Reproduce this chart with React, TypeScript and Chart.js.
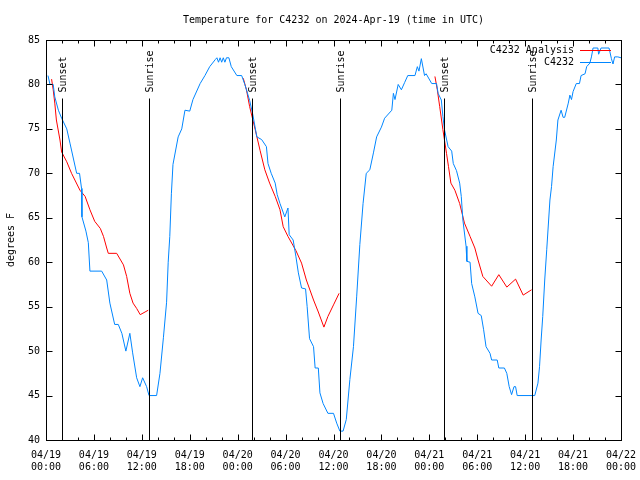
import React, { useEffect, useRef } from "react";
import { Chart, registerables } from "chart.js";

Chart.register(...registerables);

const FONT = '"DejaVu Sans Mono", monospace';
const TITLE = "Temperature for C4232 on 2024-Apr-19 (time in UTC)";
const Y_TITLE = "degrees F";
const START_MONTH = "04";
const START_DAY = 19;
const X_MIN = 0;
const X_MAX = 72;
const X_MAJOR = 6;
const X_MINOR = 2;
const Y_MIN = 40;
const Y_MAX = 85;
const Y_STEP = 5;

const OBS_LABEL = "C4232";
const ANA_LABEL = "C4232 Analysis";
const OBS_COLOR = "rgb(0,134,255)";
const ANA_COLOR = "rgb(255,0,0)";

// observed station temperature (hours since 04/19 00:00 UTC)
const obsHours = [
  0.25, 0.5, 0.9, 1.1, 1.55, 1.96, 2.6, 3.0, 3.84, 4.2, 4.45, 4.5, 5.0, 5.3, 5.5, 6.97, 7.6, 8.0, 8.6, 9.05,
  9.5, 10.0, 10.5, 10.85, 11.35, 11.76, 12.1, 12.6, 12.9, 13.85, 14.27, 14.7, 15.1, 15.3, 15.5, 15.7, 15.9, 16.55, 17.0, 17.4,
  18.0, 18.4, 19.3, 19.9, 20.5, 21.2, 21.4, 21.6, 21.8, 22.0, 22.2, 22.4, 22.6, 22.9, 23.2, 23.9, 24.5, 24.9, 25.5, 25.9,
  26.4, 27.0, 27.6, 27.8, 28.2, 28.7, 28.95, 29.3, 29.9, 30.3, 30.45, 30.95, 31.3, 31.6, 32.0, 32.5, 32.7, 33.0, 33.5, 33.7,
  34.1, 34.3, 34.7, 35.3, 36.0, 36.4, 36.8, 37.2, 37.6, 38.05, 38.5, 38.9, 39.3, 39.7, 40.1, 40.55, 41.0, 41.4, 42.0, 42.4,
  43.3, 43.5, 43.7, 44.1, 44.5, 44.9, 45.3, 46.2, 46.5, 46.7, 47.0, 47.4, 47.6, 48.3, 48.9, 49.1, 49.5, 49.7, 49.9, 50.35,
  50.8, 51.0, 51.4, 51.8, 52.0, 52.2, 52.6, 52.7, 53.1, 53.3, 53.7, 54.1, 54.5, 54.8, 55.1, 55.6, 55.8, 56.5, 56.7, 57.4,
  57.7, 58.0, 58.3, 58.6, 58.8, 59.0, 61.2, 61.6, 61.8, 62.0, 62.2, 62.45, 62.7, 63.1, 63.3, 63.5, 63.9, 64.1, 64.5, 64.75,
  64.95, 65.4, 65.6, 65.8, 66.0, 66.4, 66.8, 67.0, 67.5, 67.7, 68.1, 68.3, 68.5, 69.1, 69.2, 69.5, 70.5, 70.8, 71.0, 71.2,
  71.6, 72.0,
];
const obsTemps = [
  81, 80, 80, 78.6, 77.1, 76.2, 75, 73.4, 70, 70, 68.3, 65.1, 63.5, 62.2, 59, 59, 58, 55.4, 53, 53,
  52, 50, 52, 49.8, 47, 46, 47, 46, 45, 45, 47.5, 51.5, 55.5, 60, 62.9, 67.7, 71, 74.1, 75, 77.1,
  77, 78.3, 80.1, 81, 82, 82.8, 83, 82.5, 83, 82.5, 83, 82.5, 83, 83, 82, 81, 81, 80, 78.2, 76.6,
  74.1, 73.8, 73, 71.1, 70, 68.9, 67.6, 66.6, 65.1, 66.1, 63.1, 62.5, 60.6, 58.8, 57.1, 57, 55, 51.4, 50.5, 48.1,
  48.1, 45.3, 44.1, 43, 43, 41.9, 41, 41, 42.3, 46.8, 50.5, 56.1, 62, 66.6, 70, 70.4, 72.3, 74.1, 75.2, 76.2,
  77.1, 79, 78.3, 80, 79.4, 80.2, 81, 81, 82, 81.5, 82.9, 81, 81.2, 80.1, 80.1, 79, 78.25, 76.4, 74.9, 73,
  72.5, 71.1, 70.3, 68.9, 67.4, 64.75, 61.8, 60.1, 60, 57.6, 56.1, 54.25, 54, 52.4, 50.5, 49.75, 49, 49, 48.1, 48.1,
  47.5, 46, 45.1, 46, 46, 45, 45, 46.4, 48.25, 51.25, 53.9, 58, 61.4, 67, 68.5, 70.75, 73.75, 76, 77.1, 76.3,
  76.3, 77.9, 78.8, 78.3, 79.2, 80.1, 80.1, 81, 81.2, 82, 82.4, 83.1, 84.1, 84.1, 83.4, 84.1, 84.1, 82.9, 82.3, 83.1,
  83.1, 83,
];

// analysis temperature, three overnight segments (null = gap)
const anaHours = [
  0.7, 0.9, 1.1, 1.3, 1.75, 1.96, 2.6, 3.2, 4.25, 4.9, 5.5, 6.1, 6.8, 7.2, 7.6, 7.8, 8.85, 9.7, 10.1, 10.5,
  10.9, 11.35, 11.8, 12.4, 12.8, 18.0,
  24.7, 25.1, 25.5, 26.2, 26.8, 27.4, 28.0, 28.7, 29.3, 29.7, 30.3, 31.3, 32.0, 32.6, 33.5, 34.1, 34.8, 35.3, 36.0, 36.7, 42.0,
  48.7, 49.0, 49.3, 49.7, 50.15, 50.4, 50.7, 51.2, 51.8, 52.4, 53.1, 53.7, 54.1, 54.7, 55.8, 56.7, 57.7, 58.8, 59.75, 60.8,
];
const anaTemps = [
  80.6, 79.4, 77.9, 76, 73.75, 72.4, 71.3, 70, 68.1, 67.4, 65.9, 64.6, 63.8, 62.9, 61.6, 61, 61, 59.7, 58.4, 56.5,
  55.4, 54.8, 54.1, 54.4, 54.6, null,
  80.7, 79.4, 77.5, 74.9, 72.6, 70.4, 68.9, 67.4, 65.9, 64, 62.9, 61.3, 59.9, 58, 55.75, 54.4, 52.7, 53.9, 55.2, 56.5, null,
  80.9, 79.4, 77.5, 74.9, 72.25, 70.75, 68.9, 68.1, 66.6, 64.4, 62.9, 61.6, 60.25, 58.4, 57.3, 58.6, 57.2, 58.1, 56.3, 56.9,
];

// sunset / sunrise markers
const sunHours = [1.97, 12.94, 25.83, 36.85, 49.87, 60.89];
const sunLabels = ["Sunset", "Sunrise", "Sunset", "Sunrise", "Sunset", "Sunrise"];

function pad2(n: number) {
  return n < 10 ? "0" + n : "" + n;
}

const decorPlugin = {
  id: "decor",
  afterDatasetsDraw(chart: any) {
    const { ctx, chartArea: a, scales } = chart;
    const x = scales.x;
    const y = scales.y;
    const L = Math.round(a.left) + 0.5;
    const R = Math.round(a.right) + 0.5;
    const T = Math.round(a.top) + 0.5;
    const B = Math.round(a.bottom) + 0.5;
    ctx.save();
    ctx.strokeStyle = "#000";
    ctx.lineWidth = 1;
    const seg = (x1: number, y1: number, x2: number, y2: number) => {
      ctx.beginPath();
      ctx.moveTo(x1, y1);
      ctx.lineTo(x2, y2);
      ctx.stroke();
    };
    // border
    ctx.strokeRect(L, T, R - L, B - T);
    // x ticks (inward, top and bottom)
    for (let h = X_MIN; h <= X_MAX; h += X_MINOR) {
      const px = Math.round(x.getPixelForValue(h)) + 0.5;
      const len = h % X_MAJOR === 0 ? 6 : 3;
      seg(px, B, px, B - len);
      seg(px, T, px, T + len);
    }
    // y ticks (inward, left and right)
    for (let v = Y_MIN; v <= Y_MAX; v += Y_STEP) {
      const py = Math.round(y.getPixelForValue(v)) + 0.5;
      seg(L, py, L + 6, py);
      seg(R, py, R - 6, py);
    }
    // sunrise / sunset lines and labels
    ctx.font = "10px " + FONT;
    ctx.fillStyle = "#000";
    sunHours.forEach((h, i) => {
      const px = Math.round(x.getPixelForValue(h)) + 0.5;
      seg(px, B, px, T + 58);
      ctx.save();
      ctx.translate(px + 1, T + 52);
      ctx.rotate(-Math.PI / 2);
      ctx.textAlign = "left";
      ctx.textBaseline = "middle";
      ctx.fillText(sunLabels[i], 0, 0);
      ctx.restore();
    });
    // legend
    ctx.textAlign = "right";
    ctx.textBaseline = "middle";
    const legendItems = [
      { label: ANA_LABEL, color: ANA_COLOR },
      { label: OBS_LABEL, color: OBS_COLOR },
    ];
    legendItems.forEach((it, i) => {
      const ly = Math.round(a.top + 10 + i * 12) + 0.5;
      ctx.fillStyle = "#000";
      ctx.fillText(it.label, a.right - 47, ly);
      ctx.strokeStyle = it.color;
      seg(a.right - 41, ly, a.right - 10, ly);
    });
    // title
    ctx.fillStyle = "#000";
    ctx.textAlign = "center";
    ctx.textBaseline = "middle";
    ctx.fillText(TITLE, (a.left + a.right) / 2, 20);
    ctx.restore();
  },
};

export default function App() {
  const ref = useRef<HTMLCanvasElement>(null);

  useEffect(() => {
    document.body.style.margin = "0";
    const canvas = ref.current;
    if (!canvas) return;
    const tickFont = { family: FONT, size: 10, lineHeight: 1.2 };
    const chart = new Chart(canvas, {
      type: "line",
      data: {
        datasets: [
          {
            label: ANA_LABEL,
            data: anaHours.map((h, i) => ({ x: h, y: anaTemps[i] })),
            borderColor: ANA_COLOR,
            backgroundColor: ANA_COLOR,
            borderWidth: 1,
            pointRadius: 0,
            tension: 0,
            spanGaps: false,
            order: 2,
          },
          {
            label: OBS_LABEL,
            data: obsHours.map((h, i) => ({ x: h, y: obsTemps[i] })),
            borderColor: OBS_COLOR,
            backgroundColor: OBS_COLOR,
            borderWidth: 1,
            pointRadius: 0,
            tension: 0,
            order: 1,
          },
        ],
      },
      options: {
        responsive: false,
        animation: false,
        events: [],
        layout: { padding: { top: 40, right: 19, left: 0, bottom: 0 } },
        plugins: {
          legend: { display: false },
          tooltip: { enabled: false },
          title: { display: false },
        },
        scales: {
          x: {
            type: "linear",
            min: X_MIN,
            max: X_MAX,
            grid: { display: false, drawTicks: false },
            border: { display: false },
            ticks: {
              stepSize: X_MAJOR,
              autoSkip: false,
              maxRotation: 0,
              padding: 9,
              color: "#000",
              font: tickFont,
              callback: (v: any) => {
                const h = Number(v);
                const day = START_DAY + Math.floor(h / 24);
                const hr = h % 24;
                return [START_MONTH + "/" + pad2(day), pad2(hr) + ":00"];
              },
            },
            afterFit: (s: any) => {
              s.height = 40;
              s.paddingLeft = 0;
              s.paddingRight = 0;
            },
          },
          y: {
            type: "linear",
            min: Y_MIN,
            max: Y_MAX,
            grid: { display: false, drawTicks: false },
            border: { display: false },
            ticks: {
              stepSize: Y_STEP,
              padding: 6,
              color: "#000",
              font: tickFont,
            },
            title: {
              display: true,
              text: Y_TITLE,
              color: "#000",
              font: tickFont,
              padding: { top: 5, bottom: 0 },
            },
            afterFit: (s: any) => {
              s.width = 46;
              s.paddingTop = 0;
              s.paddingBottom = 0;
            },
          },
        },
      },
      plugins: [decorPlugin],
    });
    return () => chart.destroy();
  }, []);

  return <canvas ref={ref} width={640} height={480} style={{ display: "block" }} />;
}
